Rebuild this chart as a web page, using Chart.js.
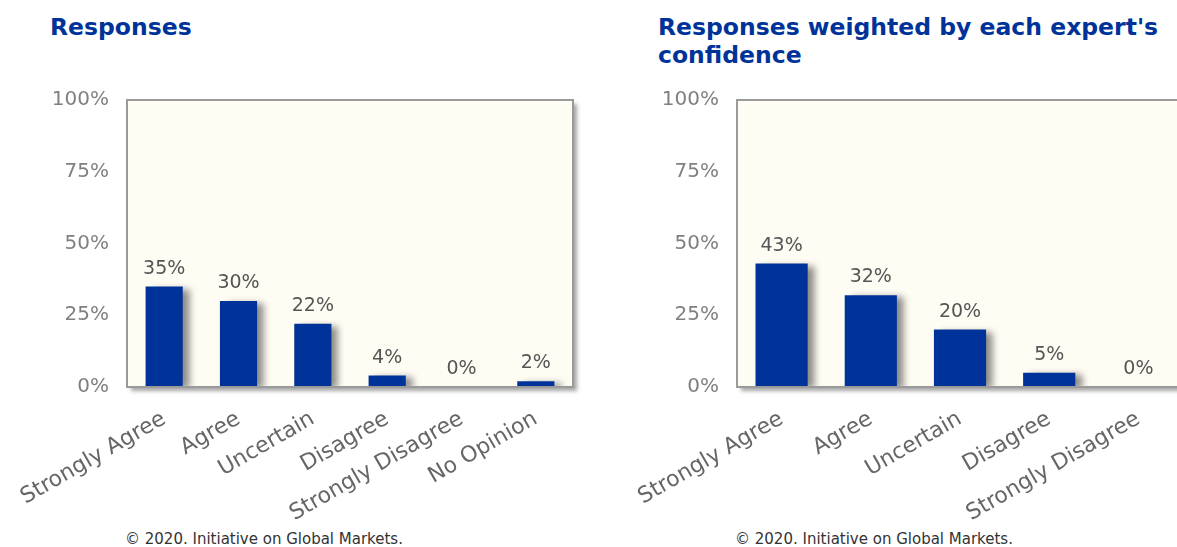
<!DOCTYPE html>
<html>
<head>
<meta charset="utf-8">
<script src="https://cdn.jsdelivr.net/npm/chart.js@4.4.1/dist/chart.umd.min.js"></script>
<style>
  body { margin: 0; width: 1177px; height: 547px; overflow: hidden; background: #fff; position: relative;
         font-family: "DejaVu Sans", Verdana, sans-serif; }
  .title { position: absolute; color: #003399; font-weight: bold; font-size: 23.5px; line-height: 28px; white-space: nowrap; }
  .box { position: absolute; top: 70px; width: 600px; height: 450px; }
  .box canvas { display: block; }
  .foot { position: absolute; top: 531px; font-size: 15px; line-height: 17px; color: #333; white-space: nowrap; }
</style>
</head>
<body>
<div class="title" style="left:50px;top:13px">Responses</div>
<div class="title" style="left:658px;top:13px">Responses weighted by each expert's<br>confidence</div>
<div class="box" style="left:0px"><canvas id="left" width="600" height="450"></canvas></div>
<div class="box" style="left:610px"><canvas id="right" width="600" height="450"></canvas></div>
<div class="foot" style="left:125px">© 2020. Initiative on Global Markets.</div>
<div class="foot" style="left:735px">© 2020. Initiative on Global Markets.</div>

<script>
// Chart data
const leftLabels = ['Strongly Agree', 'Agree', 'Uncertain', 'Disagree', 'Strongly Disagree', 'No Opinion'];
const leftValues = [35, 30, 22, 4, 0, 2];
const rightLabels = ['Strongly Agree', 'Agree', 'Uncertain', 'Disagree', 'Strongly Disagree'];
const rightValues = [43, 32, 20, 5, 0];
const yTicks = [0, 25, 50, 75, 100];

const FONT = '"DejaVu Sans", Verdana, sans-serif';

// cream plot frame with a drop shadow, shadows under the bars, value labels
const framePlugin = {
    id: 'frame',
    beforeDraw(chart) {
        const { ctx, chartArea: a } = chart;
        ctx.save();
        ctx.shadowColor = 'rgba(0,0,0,0.35)';
        ctx.shadowOffsetX = 4;
        ctx.shadowOffsetY = 4;
        ctx.shadowBlur = 4;
        ctx.fillStyle = '#fffcf4';
        ctx.fillRect(a.left, a.top, a.width, a.height);
        ctx.restore();
    },
    beforeDatasetsDraw(chart) {
        const ctx = chart.ctx;
        ctx.save();
        ctx.shadowColor = 'rgba(0,0,0,0.45)';
        ctx.shadowOffsetX = 7;
        ctx.shadowOffsetY = 2;
        ctx.shadowBlur = 7;
    },
    afterDatasetsDraw(chart) {
        const { ctx, chartArea: a } = chart;
        ctx.restore();

        ctx.save();
        ctx.strokeStyle = '#9a9a9a';
        ctx.lineWidth = 2;
        ctx.strokeRect(a.left, a.top, a.width, a.height);

        ctx.fillStyle = '#555';
        ctx.font = '19px ' + FONT;
        ctx.textAlign = 'center';
        ctx.textBaseline = 'alphabetic';
        const data = chart.data.datasets[0].data;
        chart.getDatasetMeta(0).data.forEach((bar, i) => {
            ctx.fillText(data[i] + '%', bar.x, bar.y - 13);
        });
        ctx.restore();
    }
};

function makeChart(id, labels, values, barPct) {
    const ctx = document.getElementById(id).getContext('2d');
    return new Chart(ctx, {
        type: 'bar',
        data: {
            labels: labels,
            datasets: [{
                data: values,
                backgroundColor: '#003399',
                barPercentage: barPct,
                categoryPercentage: 1
            }]
        },
        options: {
            responsive: false,
            animation: false,
            layout: { padding: { top: 8, right: 27, left: 0, bottom: 0 } },
            plugins: { legend: { display: false }, tooltip: { enabled: false } },
            scales: {
                x: {
                    grid: { display: false, drawTicks: false },
                    border: { display: false },
                    ticks: {
                        minRotation: 30,
                        maxRotation: 30,
                        autoSkip: false,
                        padding: 19,
                        color: '#666',
                        font: { family: FONT, size: 22 }
                    },
                    afterFit(scale) {
                        scale.height = 133;
                        scale.paddingLeft = 0;
                        scale.paddingRight = 0;
                    }
                },
                y: {
                    min: 0,
                    max: 100,
                    grid: { display: false, drawTicks: false },
                    border: { display: false },
                    afterBuildTicks(scale) { scale.ticks = yTicks.map(v => ({ value: v })); },
                    ticks: {
                        padding: 18,
                        color: '#808080',
                        font: { family: FONT, size: 20 },
                        callback: v => v + '%'
                    },
                    afterFit(scale) { scale.width = 127; }
                }
            }
        },
        plugins: [framePlugin]
    });
}

makeChart('left', leftLabels, leftValues, 0.5);
makeChart('right', rightLabels, rightValues, 0.585);
</script>
</body>
</html>
